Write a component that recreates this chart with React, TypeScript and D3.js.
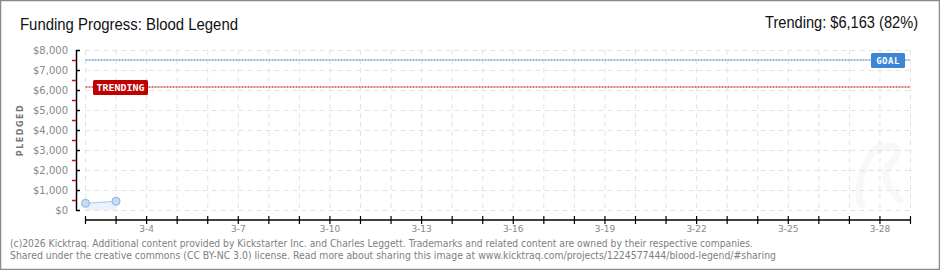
import React from "react";
import * as d3 from "d3";

const dayLabels = ["3-2","3-3","3-4","3-5","3-6","3-7","3-8","3-9","3-10","3-11","3-12","3-13","3-14","3-15","3-16","3-17","3-18","3-19","3-20","3-21","3-22","3-23","3-24","3-25","3-26","3-27","3-28","3-29"];
const labeledDays = ["3-4","3-7","3-10","3-13","3-16","3-19","3-22","3-25","3-28"];
const pledgedDays = [0, 1];
const pledgedValues = [335, 435];
const yTicks = [0, 1000, 2000, 3000, 4000, 5000, 6000, 7000, 8000];
const goalValue = 7500;
const trendingValue = 6163;
const titleText = "Funding Progress: Blood Legend";
const trendText = "Trending: $6,163 (82%)";
const footer1 = "(c)2026 Kicktraq. Additional content provided by Kickstarter Inc. and Charles Leggett. Trademarks and related content are owned by their respective companies.";
const footer2 = "Shared under the creative commons (CC BY-NC 3.0) license. Read more about sharing this image at www.kicktraq.com/projects/1224577444/blood-legend/#sharing";

export default function App() {
  const W = 940, H = 270;
  const x = d3.scaleLinear().domain([0, dayLabels.length - 1]).range([85.5, 910.5]);
  const y = d3.scaleLinear().domain([0, 8000]).range([210, 50]);
  const pts = pledgedDays.map((d, i) => [x(d), y(pledgedValues[i])] as [number, number]);
  const line = d3.line<[number, number]>()(pts) || "";
  const area = d3.area<[number, number]>().x(p => p[0]).y0(y(0)).y1(p => p[1])(pts) || "";
  const minorTicks = yTicks.slice(0, -1).map(v => v + 500);
  const gy = Math.round(y(goalValue)), ty = Math.round(y(trendingValue));
  return (
    <svg width={W} height={H} style={{ position: "absolute", left: 0, top: 0 }}>
      <rect x={0.5} y={0.5} width={W - 1} height={H - 1} fill="#fff" stroke="#8a8a8a" strokeWidth={1.5} />
      <text x={20} y={30} fontFamily="Liberation Sans, Arial" fontSize={16} fill="#111" textLength={218} lengthAdjust="spacingAndGlyphs">{titleText}</text>
      <text x={918} y={28} textAnchor="end" fontFamily="Liberation Sans, Arial" fontSize={16} fill="#111" textLength={153} lengthAdjust="spacingAndGlyphs">{trendText}</text>
      {/* watermark */}
      <path d={`M 880 145 C 860 160, 855 200, 862 205 M 878 150 C 895 140, 905 150, 890 165 C 880 175, 890 190, 900 200`} fill="none" stroke="#f8f8f8" strokeWidth={7} strokeLinecap="round" />
      {/* grid */}
      {yTicks.map(v => (
        <line key={"gy" + v} x1={85.5} x2={910.5} y1={y(v) + 0.5} y2={y(v) + 0.5} stroke="#e3e3e3" strokeDasharray="5,4" />
      ))}
      {dayLabels.map((d, i) => (
        <line key={"gx" + d} x1={x(i)} x2={x(i)} y1={50} y2={210} stroke="#e3e3e3" strokeDasharray="5,4" />
      ))}
      {/* goal & trending */}
      <line x1={85.5} x2={910} y1={gy} y2={gy} stroke="#92b7e3" strokeWidth={2} strokeDasharray="2,1" />
      <line x1={85.5} x2={910} y1={ty} y2={ty} stroke="#d87878" strokeWidth={2} strokeDasharray="2,1" />
      <rect x={871} y={53} width={34} height={15} rx={1.5} fill="#3d86d5" />
      <text x={888} y={64} textAnchor="middle" fontFamily="DejaVu Sans Mono, monospace" fontSize={9} fontWeight="bold" fill="#fff" letterSpacing={0.5}>GOAL</text>
      <rect x={93} y={80} width={55} height={15} rx={1.5} fill="#c00000" />
      <text x={120.5} y={91} textAnchor="middle" fontFamily="DejaVu Sans Mono, monospace" fontSize={9} fontWeight="bold" fill="#fff" textLength={48} lengthAdjust="spacingAndGlyphs">TRENDING</text>
      {/* data */}
      <path d={area} fill="#eaf2fc" />
      <path d={line} fill="none" stroke="#a9c9ee" strokeWidth={1} />
      {pts.map((p, i) => (
        <circle key={"p" + i} cx={p[0]} cy={p[1]} r={4} fill="#c4dbf5" stroke="#8fb1dc" strokeWidth={1} />
      ))}
      {/* y axis */}
      <line x1={76.5} x2={76.5} y1={50} y2={210.5} stroke="#000" strokeWidth={1.5} />
      {yTicks.map(v => (
        <g key={"yt" + v}>
          <line x1={76} x2={80} y1={y(v) + 0.5} y2={y(v) + 0.5} stroke="#000" strokeWidth={1.5} />
          <text x={68} y={y(v) + 4} textAnchor="end" fontFamily="DejaVu Sans, Verdana" fontSize={10} fill="#888">{d3.format("$,")(v)}</text>
        </g>
      ))}
      {minorTicks.map(v => (
        <line key={"ym" + v} x1={72} x2={76} y1={y(v) + 0.5} y2={y(v) + 0.5} stroke="#e00000" strokeWidth={1.5} />
      ))}
      <text transform={`translate(23,130) rotate(-90)`} textAnchor="middle" fontFamily="DejaVu Sans, Verdana" fontSize={8} fontWeight="bold" fill="#777" letterSpacing={1.5}>PLEDGED</text>
      {/* x axis */}
      <line x1={85} x2={911} y1={220} y2={220} stroke="#000" strokeWidth={1.5} />
      {dayLabels.map((d, i) => (
        <g key={"xt" + d}>
          <line x1={x(i)} x2={x(i)} y1={216} y2={224} stroke="#000" strokeWidth={1.2} />
          {labeledDays.includes(d) && (
            <text x={x(i)} y={232} textAnchor="middle" fontFamily="DejaVu Sans, Verdana" fontSize={9} fill="#888">{d}</text>
          )}
        </g>
      ))}
      {/* footer */}
      <text x={10} y={247} fontFamily="DejaVu Sans, Verdana" fontSize={10} fill="#808080" textLength={743} lengthAdjust="spacingAndGlyphs">{footer1}</text>
      <text x={10} y={259} fontFamily="DejaVu Sans, Verdana" fontSize={10} fill="#808080" textLength={766} lengthAdjust="spacingAndGlyphs">{footer2}</text>
    </svg>
  );
}
